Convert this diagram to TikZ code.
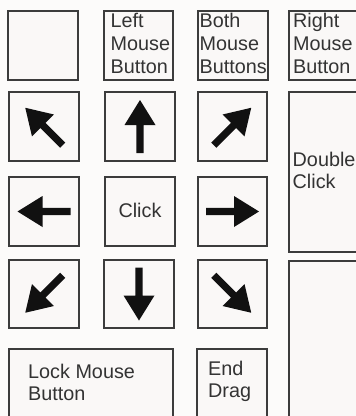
\documentclass[tikz,border=0pt]{standalone}
\usepackage{fontspec}
\setmainfont{Liberation Sans}
\definecolor{bg}{HTML}{FCFBFA}
\definecolor{boxfill}{HTML}{FAF8F7}
\definecolor{edge}{HTML}{3C3C3C}
\definecolor{arr}{HTML}{111111}
\tikzset{
  keybox/.style={draw=edge, line width=1.8pt, fill=boxfill},
  lbl/.style={anchor=base west, inner sep=0pt, font=\fontsize{19.8}{23}\selectfont, text=black!80},
  blockarrow/.pic={\fill[arr] (-26.5,-3.6) -- (1.5,-3.6) -- (1.5,-15.5) -- (26.5,0) -- (1.5,15.5) -- (1.5,3.6) -- (-26.5,3.6) -- cycle;}
}
\newcommand{\kbox}[5]{\draw[keybox] (#2,#3) rectangle (#4,#5) coordinate (#1-se); \coordinate (#1) at ({(#2+#4)/2},{(#3+#5)/2});}
\begin{document}
\begin{tikzpicture}[x=1pt,y=-1pt]
\useasboundingbox (0,0) rectangle (356,416);
\fill[bg] (0,0) rectangle (356,416);
\clip (0,0) rectangle (356,416);
% row 1
\kbox{blank}{8}{11}{78}{80}
\kbox{lmb}{104}{11}{173}{80}
\kbox{both}{198}{11}{268}{80}
\kbox{rmb}{289}{11}{372}{80}
% row 2
\kbox{nw}{9}{92}{79}{161}
\kbox{up}{105}{92}{175}{161}
\kbox{ne}{198}{92}{267}{161}
\kbox{dbl}{289}{92}{372}{252}
% row 3
\kbox{w}{9}{177}{79}{246}
\kbox{click}{105}{177}{175}{246}
\kbox{e}{198}{177}{267}{246}
% row 4
\kbox{sw}{9}{260}{79}{328}
\kbox{down}{104}{260}{174}{328}
\kbox{se}{198}{260}{267}{328}
\kbox{br}{289}{261}{372}{430}
% row 5
\kbox{lock}{9}{349}{173}{430}
\kbox{end}{197}{349}{267}{430}
% arrows (pic is drawn pointing right)
\pic[rotate=135] at (nw) {blockarrow};
\pic[rotate=90] at (up) {blockarrow};
\pic[rotate=45] at (ne) {blockarrow};
\pic[rotate=180] at (w) {blockarrow};
\pic at (e) {blockarrow};
\pic[rotate=-135] at (sw) {blockarrow};
\pic[rotate=-90] at (down) {blockarrow};
\pic[rotate=-45] at (se) {blockarrow};
% labels
\node[lbl] (lmb1) at (110.5,27) {Left};
\node[lbl] (lmb2) at (110.5,50) {Mouse};
\node[lbl] (lmb3) at (110.5,73) {Button};
\node[lbl] (both1) at (199.5,27) {Both};
\node[lbl] (both2) at (199.5,50) {Mouse};
\node[lbl] (both3) at (199.5,73) {Buttons};
\node[lbl] (rmb1) at (293,27) {Right};
\node[lbl] (rmb2) at (293,50) {Mouse};
\node[lbl] (rmb3) at (293,73) {Button};
\node[lbl] (dbl1) at (292.5,166) {Double};
\node[lbl] (dbl2) at (292.5,188) {Click};
\node[lbl, anchor=base] (clk) at (140,217) {Click};
\node[lbl] (lock1) at (28,378) {Lock Mouse};
\node[lbl] (lock2) at (28,400) {Button};
\node[lbl] (end1) at (208,375) {End};
\node[lbl] (end2) at (208,397) {Drag};
\end{tikzpicture}
\end{document}
